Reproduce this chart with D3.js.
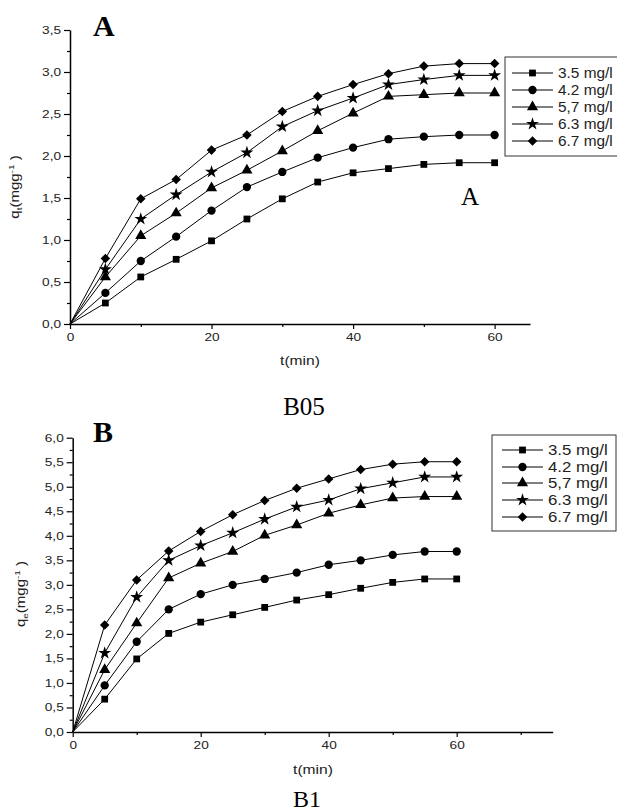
<!DOCTYPE html>
<html>
<head>
<meta charset="utf-8">
<script src="https://cdn.jsdelivr.net/npm/d3@7"></script>
<style>
  html, body { margin: 0; padding: 0; background: #fff; }
  svg { display: block; }
</style>
</head>
<body>
<svg id="chart" width="617" height="812"></svg>
<script>
// Sampling times (min)
const times = [0, 5, 10, 15, 20, 25, 30, 35, 40, 45, 50, 55, 60];

// Initial concentrations (legend labels)
const concLabels = ["3.5 mg/l", "4.2 mg/l", "5,7 mg/l", "6.3 mg/l", "6.7 mg/l"];

// Panel A: q_t (mg/g) for B05
const qA_35 = [0, 0.25, 0.56, 0.77, 0.99, 1.25, 1.49, 1.69, 1.80, 1.85, 1.90, 1.92, 1.92];
const qA_42 = [0, 0.37, 0.75, 1.04, 1.35, 1.63, 1.81, 1.98, 2.10, 2.20, 2.23, 2.25, 2.25];
const qA_57 = [0, 0.56, 1.05, 1.32, 1.62, 1.83, 2.06, 2.30, 2.51, 2.71, 2.73, 2.75, 2.75];
const qA_63 = [0, 0.65, 1.25, 1.54, 1.81, 2.04, 2.35, 2.54, 2.69, 2.85, 2.91, 2.96, 2.96];
const qA_67 = [0, 0.78, 1.49, 1.72, 2.07, 2.25, 2.53, 2.71, 2.85, 2.98, 3.07, 3.10, 3.10];

// Panel B: q_e (mg/g) for B1
const qB_35 = [0, 0.67, 1.49, 2.01, 2.24, 2.39, 2.54, 2.69, 2.80, 2.93, 3.05, 3.12, 3.12];
const qB_42 = [0, 0.95, 1.84, 2.50, 2.81, 3.00, 3.12, 3.25, 3.41, 3.50, 3.61, 3.68, 3.68];
const qB_57 = [0, 1.27, 2.22, 3.14, 3.44, 3.68, 4.01, 4.22, 4.46, 4.63, 4.77, 4.80, 4.80];
const qB_63 = [0, 1.61, 2.75, 3.50, 3.80, 4.06, 4.34, 4.59, 4.73, 4.96, 5.08, 5.20, 5.20];
const qB_67 = [0, 2.18, 3.10, 3.69, 4.09, 4.43, 4.72, 4.97, 5.16, 5.35, 5.46, 5.51, 5.51];

// Axis ticks
const xTicksA = [0, 20, 40, 60];
const xMinorA = [10, 30, 50];
const xTicksB = [0, 20, 40, 60];
const xMinorB = [10, 30, 50, 70];
const yTicksA = [0, 0.5, 1, 1.5, 2, 2.5, 3, 3.5];
const yTicksB = [0, 0.5, 1, 1.5, 2, 2.5, 3, 3.5, 4, 4.5, 5, 5.5, 6];

const svg = d3.select("#chart");
const SANS = "'Liberation Sans', Arial, sans-serif";
const SERIF = "'Liberation Serif', 'Times New Roman', serif";

const symbols = [
  d3.symbol().type(d3.symbolSquare).size(46),
  d3.symbol().type(d3.symbolCircle).size(54),
  d3.symbol().type(d3.symbolTriangle).size(54),
  d3.symbol().type(d3.symbolStar).size(52),
  d3.symbol().type(d3.symbolDiamond2).size(58)
];

const commaFmt = v => d3.format(".1f")(v).replace(".", ",");

// Widen text horizontally in its own frame
function stretch(sel, sx) {
  sel.each(function () {
    const t = d3.select(this);
    const x = +t.attr("x") || 0;
    t.attr("x", x / sx);
    const prev = t.attr("transform") || "";
    t.attr("transform", prev + ` scale(${sx},1)`);
  });
}

function drawPanel(cfg) {
  const x = d3.scaleLinear().domain(cfg.xDomain).range(cfg.xRange);
  const y = d3.scaleLinear().domain(cfg.yDomain).range(cfg.yRange);
  const g = svg.append("g");

  // minor ticks
  const minorX = g.append("g")
    .attr("transform", `translate(0,${cfg.yRange[0]})`)
    .call(d3.axisBottom(x).tickValues(cfg.xMinor).tickSize(3).tickFormat(""));
  minorX.select(".domain").remove();
  const yMinorVals = d3.range(cfg.yDomain[0] + 0.25, cfg.yDomain[1], 0.5);
  const minorY = g.append("g")
    .attr("transform", `translate(${cfg.xRange[0]},0)`)
    .call(d3.axisLeft(y).tickValues(yMinorVals).tickSize(3).tickFormat(""));
  minorY.select(".domain").remove();

  // major axes
  const ax = g.append("g")
    .attr("transform", `translate(0,${cfg.yRange[0]})`)
    .call(d3.axisBottom(x).tickValues(cfg.xTicks).tickSize(5).tickSizeOuter(0).tickPadding(5).tickFormat(d3.format("d")));
  const ay = g.append("g")
    .attr("transform", `translate(${cfg.xRange[0]},0)`)
    .call(d3.axisLeft(y).tickValues(cfg.yTicks).tickSize(6).tickSizeOuter(0).tickPadding(3).tickFormat(commaFmt));

  [ax, ay, minorX, minorY].forEach(a => {
    a.selectAll("line").attr("stroke", "#000").attr("stroke-width", 1.2);
    a.select(".domain").attr("stroke", "#000").attr("stroke-width", 1.5);
  });
  [ax, ay].forEach(a => {
    a.selectAll("text").attr("font-family", SANS).attr("font-size", 10.5).attr("fill", "#222");
    stretch(a.selectAll("text"), 1.3);
  });

  // series
  const line = d3.line().x(d => x(d[0])).y(d => y(d[1]));
  cfg.series.forEach((vals, i) => {
    const pts = times.map((t, k) => [t, vals[k]]);
    g.append("path")
      .attr("d", line(pts))
      .attr("fill", "none")
      .attr("stroke", "#000")
      .attr("stroke-width", 1);
    g.append("g").selectAll("path")
      .data(pts.filter(p => p[0] > 0))
      .join("path")
      .attr("transform", p => `translate(${x(p[0])},${y(p[1])})`)
      .attr("d", symbols[i]())
      .attr("fill", "#000");
  });

  // axis titles
  const xt = g.append("text")
    .attr("transform", `translate(${cfg.xTitlePos[0]},${cfg.xTitlePos[1]})`)
    .attr("text-anchor", "middle")
    .attr("font-family", SANS).attr("font-size", 12).attr("fill", "#222")
    .text("t(min)");
  stretch(xt, 1.3);

  const yt = g.append("text")
    .attr("transform", `translate(${cfg.yTitlePos[0]},${cfg.yTitlePos[1]}) rotate(-90) scale(1.25,1)`)
    .attr("text-anchor", "middle")
    .attr("font-family", SANS).attr("font-size", 12).attr("fill", "#222");
  yt.append("tspan").text("q");
  yt.append("tspan").attr("font-size", 8).attr("dy", 3).text(cfg.sub);
  yt.append("tspan").attr("dy", -3).text("(mgg");
  yt.append("tspan").attr("font-size", 8).attr("dy", -5).text("-1");
  yt.append("tspan").attr("dy", 5).text(" )");

  // panel letter
  g.append("text")
    .attr("x", cfg.letterPos[0]).attr("y", cfg.letterPos[1])
    .attr("font-family", SERIF).attr("font-weight", "bold").attr("font-size", 30)
    .attr("fill", "#000")
    .text(cfg.letter);

  // legend
  const L = cfg.legend;
  g.append("rect")
    .attr("x", L.x).attr("y", L.y).attr("width", L.w).attr("height", L.h)
    .attr("fill", "#fff").attr("stroke", "#333").attr("stroke-width", 1);
  concLabels.forEach((lab, i) => {
    const ry = L.rows[i];
    g.append("line")
      .attr("x1", L.lx1).attr("x2", L.lx2).attr("y1", ry).attr("y2", ry)
      .attr("stroke", "#000").attr("stroke-width", 1);
    g.append("path")
      .attr("transform", `translate(${(L.lx1 + L.lx2) / 2},${ry})`)
      .attr("d", symbols[i]())
      .attr("fill", "#000");
    const t = g.append("text")
      .attr("transform", `translate(${L.tx},${ry + 5})`)
      .attr("font-family", SANS).attr("font-size", 14).attr("fill", "#222")
      .text(lab);
    stretch(t, L.sx);
  });
}

drawPanel({
  xDomain: [0, 65], xRange: [70, 530],
  yDomain: [0, 3.5], yRange: [324, 30],
  xTicks: xTicksA, xMinor: xMinorA, yTicks: yTicksA,
  series: [qA_35, qA_42, qA_57, qA_63, qA_67],
  xTitlePos: [300, 365], yTitlePos: [19, 187], sub: "t",
  letter: "A", letterPos: [93, 36],
  legend: { x: 505, y: 57, w: 130, h: 99, lx1: 512, lx2: 553, tx: 558, sx: 1.1,
            rows: [73, 90, 107, 124, 141] }
});

drawPanel({
  xDomain: [0, 75], xRange: [72.7, 552.7],
  yDomain: [0, 6], yRange: [732, 437.7],
  xTicks: xTicksB, xMinor: xMinorB, yTicks: yTicksB,
  series: [qB_35, qB_42, qB_57, qB_63, qB_67],
  xTitlePos: [313, 774], yTitlePos: [25, 594], sub: "e",
  letter: "B", letterPos: [93, 442],
  legend: { x: 492, y: 435, w: 124, h: 96, lx1: 502, lx2: 543, tx: 548, sx: 1.2,
            rows: [450, 467, 483, 500, 517] }
});

// captions
svg.append("text").attr("x", 470).attr("y", 205).attr("text-anchor", "middle")
  .attr("font-family", SERIF).attr("font-size", 25).attr("fill", "#000").text("A");
svg.append("text").attr("x", 304).attr("y", 415).attr("text-anchor", "middle")
  .attr("font-family", SERIF).attr("font-size", 25).attr("fill", "#000").text("B05");
svg.append("text").attr("x", 307).attr("y", 807).attr("text-anchor", "middle")
  .attr("font-family", SERIF).attr("font-size", 24).attr("fill", "#000").text("B1");
</script>
</body>
</html>
